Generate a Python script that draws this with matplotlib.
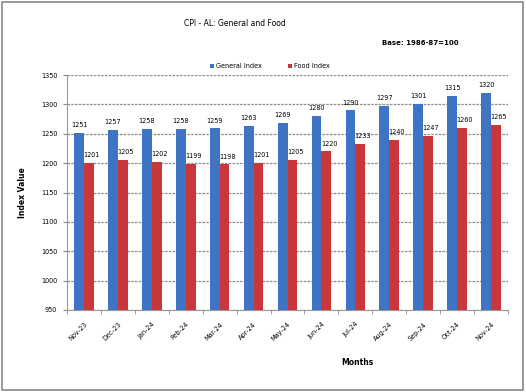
import matplotlib.pyplot as plt
import numpy as np

months = ['Nov-23', 'Dec-23', 'Jan-24', 'Feb-24', 'Mar-24', 'Apr-24', 'May-24',
          'Jun-24', 'Jul-24', 'Aug-24', 'Sep-24', 'Oct-24', 'Nov-24']
general = [1251, 1257, 1258, 1258, 1259, 1263, 1269, 1280, 1290, 1297, 1301, 1315, 1320]
food = [1201, 1205, 1202, 1199, 1198, 1201, 1205, 1220, 1233, 1240, 1247, 1260, 1265]
yticks = [950, 1000, 1050, 1100, 1150, 1200, 1250, 1300, 1350]

fig = plt.figure(figsize=(5.26, 3.92), dpi=100)
ax = fig.add_axes([67 / 526, 1 - 310 / 392, 441 / 526, 235 / 392])

x = np.arange(len(months))
w = 0.29
b1 = ax.bar(x - w / 2, general, w, color='#3f73c4', label='General Index', zorder=3)
b2 = ax.bar(x + w / 2, food, w, color='#c9373a', label='Food Index', zorder=3)

for rect, v in zip(b1, general):
    ax.text(rect.get_x() + rect.get_width() / 2, v + 8, str(v), ha='center',
            va='bottom', fontsize=4.7)
for rect, v in zip(b2, food):
    ax.text(rect.get_x() + rect.get_width() / 2 + 0.08, v + 8, str(v), ha='center',
            va='bottom', fontsize=4.7)

ax.set_ylim(950, 1350)
ax.set_xlim(-0.5, len(months) - 0.5)
ax.set_yticks(yticks)
ax.set_yticklabels([str(t) for t in yticks], fontsize=4.7)
ax.set_xticks(x)
ax.set_xticklabels(months, rotation=45, ha='right', rotation_mode='anchor', fontsize=4.7)
ax.set_xticks(np.arange(-0.5, len(months)), minor=True)
ax.tick_params(axis='x', which='major', length=0, pad=8)
ax.tick_params(axis='x', which='minor', length=3, color='#888888')
ax.tick_params(axis='y', length=3, color='#888888', pad=4)

ax.grid(axis='y', color='#8c8c8c', linestyle=(0, (2, 1)), linewidth=0.9, zorder=0)
for s in ['top', 'right']:
    ax.spines[s].set_visible(False)
ax.spines['left'].set_color('#999999')
ax.spines['bottom'].set_color('#999999')

ax.set_ylabel('Index Value', fontsize=5.5, fontweight='bold', labelpad=10)
ax.set_xlabel('Months', fontsize=5.5, fontweight='bold')
ax.xaxis.set_label_coords((357 - 67) / 441, -(358 - 310) / 235)

fig.text(235 / 526, 1 - 24 / 392, 'CPI - AL: General and Food', ha='center',
         va='center', fontsize=5.5)
fig.text(420 / 526, 1 - 43 / 392, 'Base: 1986-87=100', ha='center', va='center',
         fontsize=5, fontweight='bold')
fig.legend(loc='center', bbox_to_anchor=(270 / 526, 1 - 66 / 392), ncol=2,
           frameon=False, fontsize=4.7, handlelength=0.6, handleheight=0.6,
           columnspacing=4, handletextpad=0.3)

fig.patches.append(plt.Rectangle((0.004, 0.006), 0.99, 0.99, transform=fig.transFigure,
                                 fill=False, edgecolor='#888888', linewidth=1.2))

fig.savefig('out.png', dpi=100)
